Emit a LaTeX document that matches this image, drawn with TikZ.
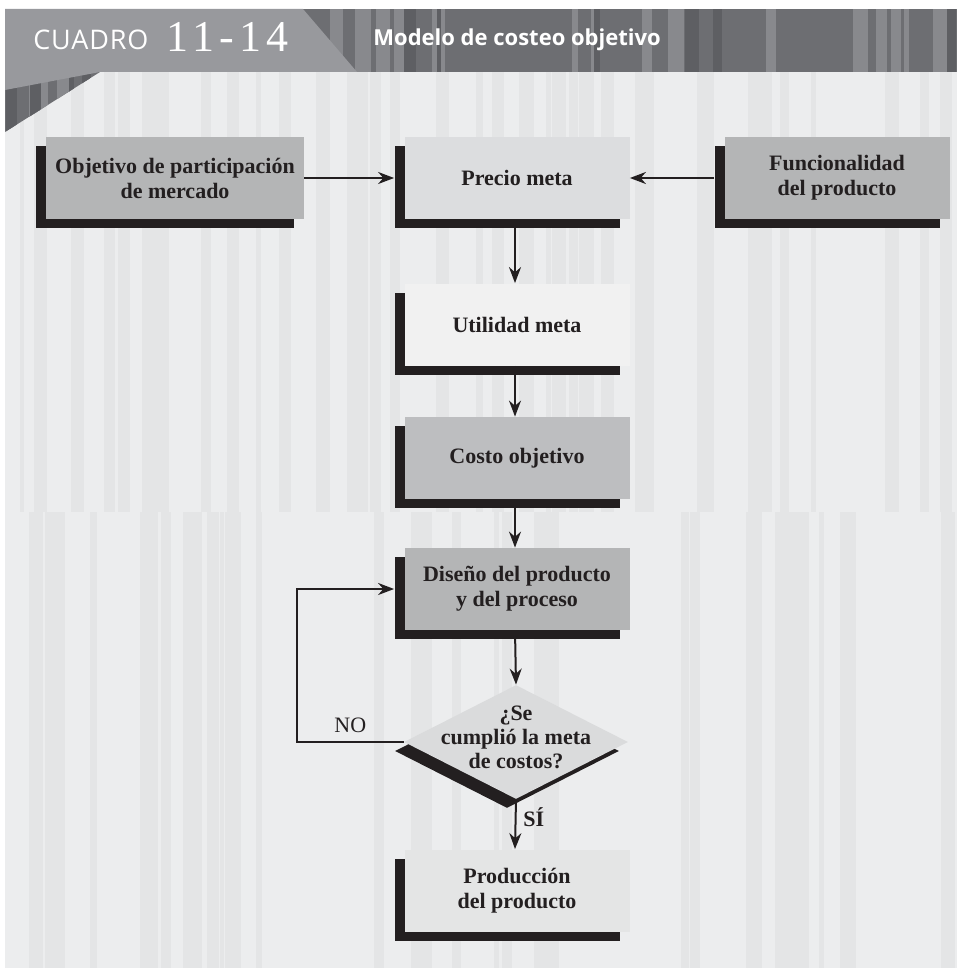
\documentclass[tikz,border=0pt]{standalone}
\usepackage{fontspec}
\setmainfont{Liberation Serif}
\newfontfamily\cabecera{Open Sans}
\usetikzlibrary{arrows.meta,shapes.geometric,shadows}
\definecolor{fondo}{HTML}{ECEDEE}
\definecolor{raya}{HTML}{E4E5E6}
\definecolor{banda}{HTML}{6D6E72}
\definecolor{bandaclara}{HTML}{88898D}
\definecolor{bandaoscura}{HTML}{5E5F63}
\definecolor{pestana}{HTML}{98999D}
\definecolor{sombra}{HTML}{231F20}
\definecolor{grisoscuro}{HTML}{B4B5B6}
\definecolor{grismedio}{HTML}{BDBEC0}
\definecolor{grisclaro}{HTML}{DCDDDF}
\definecolor{grispalido}{HTML}{F1F1F1}
\definecolor{grisrombo}{HTML}{DADBDC}
\definecolor{grisfinal}{HTML}{E4E5E5}
\tikzset{
  caja/.style={minimum width=112.5pt, minimum height=41pt, inner sep=0pt,
    align=center, text=sombra, font=\bfseries\fontsize{11}{12.5}\selectfont,
    general shadow={fill=sombra, shadow xshift=-5pt, shadow yshift=-4.5pt}},
  decision/.style={diamond, minimum width=112pt, minimum height=57pt,
    inner sep=0pt, fill=grisrombo,
    general shadow={fill=sombra, shadow xshift=-4.5pt, shadow yshift=-4.5pt}},
  flecha/.style={draw=sombra, line width=1pt, -{Stealth[length=8pt,width=6pt]}},
}
\begin{document}
\begin{tikzpicture}[x=0.5pt,y=-0.5pt]
  \useasboundingbox (0,0) rectangle (957,974);
  % fondo con rayas verticales
  \begin{scope}
    \clip (100,72) -- (957,72) -- (957,968) -- (5,968) -- (5,132) -- cycle;
    \fill[fondo] (0,72) rectangle (957,968);
    \pgfmathsetseed{3}
    \foreach \i in {1,...,38}{
      \pgfmathsetmacro{\xa}{random(5,950)}
      \pgfmathsetmacro{\w}{random(4,16)}
      \fill[raya] (\xa,72) rectangle (\xa+\w,512);}
    \foreach \i in {1,...,42}{
      \pgfmathsetmacro{\xa}{random(5,950)}
      \pgfmathsetmacro{\w}{random(4,16)}
      \fill[raya] (\xa,512) rectangle (\xa+\w,968);}
  \end{scope}
  % cabecera
  \begin{scope}
    \clip (5,9) -- (957,9) -- (957,72) -- (100,72) -- (5,132) -- cycle;
    \fill[banda] (5,9) rectangle (957,132);
    \foreach \i in {1,...,26}{
      \pgfmathsetmacro{\xa}{random(5,950)}
      \pgfmathsetmacro{\w}{random(5,16)}
      \fill[bandaclara] (\xa,9) rectangle (\xa+\w,132);}
    \foreach \i in {1,...,14}{
      \pgfmathsetmacro{\xa}{random(5,950)}
      \pgfmathsetmacro{\w}{random(4,12)}
      \fill[bandaoscura] (\xa,9) rectangle (\xa+\w,132);}
  \end{scope}
  \fill[pestana] (5,9) -- (303,9) -- (357,72) -- (100,72) -- (5,90) -- cycle;
  \node[anchor=base west, inner sep=0pt, text=white,
    font=\cabecera\fontsize{13.5}{13.5}\selectfont\addfontfeature{LetterSpace=3}]
    (cuadro) at (33,50) {CUADRO};
  \node[anchor=base west, inner sep=0pt, text=white,
    font=\fontsize{22}{22}\selectfont\addfontfeature{LetterSpace=12}]
    (numero) at (166,52) {11-14};
  \node[anchor=base west, inner sep=0pt, text=white,
    font=\cabecera\bfseries\fontsize{11}{11}\selectfont]
    (titulo) at (373,46) {Modelo de costeo objetivo};

  % cajas del modelo
  \node[caja, fill=grisoscuro, minimum width=129pt] (mercado) at (175,178)
    {Objetivo de participación\\de mercado};
  \node[caja, fill=grisclaro] (precio) at (517,178) {Precio meta};
  \node[caja, fill=grisoscuro] (funcion) at (837,178) {Funcionalidad\\del producto};
  \node[caja, fill=grispalido] (utilidad) at (517,324.5) {Utilidad meta};
  \node[caja, fill=grismedio] (costo) at (517,458) {Costo objetivo};
  \node[caja, fill=grisoscuro] (diseno) at (517,589) {Diseño del producto\\y del proceso};
  \node[decision] (meta) at (516,742) {};
  \node[align=center, inner sep=0pt, text=sombra,
    font=\bfseries\fontsize{11}{12}\selectfont] (pregunta) at (516,737)
    {¿Se\\cumplió la meta\\de costos?};
  \node[caja, fill=grisfinal] (produccion) at (517,890.5) {Producción\\del producto};

  % flechas
  \draw[flecha] (mercado.east) -- ([xshift=-5pt]precio.west);
  \draw[flecha] ([xshift=-5pt]funcion.west) -- (precio.east);
  \draw[flecha] ([xshift=-1pt]precio.south) -- ([xshift=-1pt]utilidad.north);
  \draw[flecha] ([xshift=-1pt]utilidad.south) -- ([xshift=-1pt]costo.north);
  \draw[flecha] ([xshift=-1pt]costo.south) -- ([xshift=-1pt]diseno.north);
  \draw[flecha] ([xshift=-1pt]diseno.south) -- (meta.north);
  \coordinate (vuelta) at (297,742);
  \draw[flecha] (meta.west) -- node[above, yshift=1pt, text=sombra,
    font=\fontsize{11}{12}\selectfont] (no) {NO} (vuelta)
    |- ([xshift=-5pt]diseno.west);
  \draw[flecha] (meta.south) -- node[right, pos=0.35, text=sombra,
    font=\bfseries\fontsize{11}{12}\selectfont] (si) {SÍ}
    ([xshift=-1pt]produccion.north);
\end{tikzpicture}
\end{document}
